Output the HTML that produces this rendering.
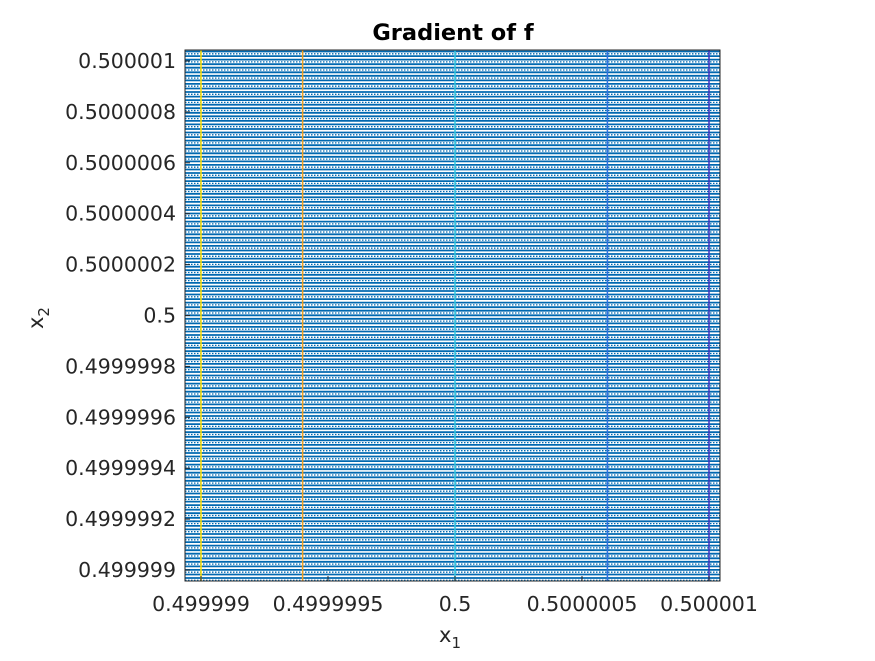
<!DOCTYPE html>
<html><head><meta charset="utf-8"><style>
body{margin:0;background:#fff;}
svg text{font-family:"DejaVu Sans","Liberation Sans",sans-serif;fill:#262626;}
</style></head><body>
<svg width="875" height="656" id="c">
<rect width="875" height="656" fill="#fff"/>
<text x="453" y="40" text-anchor="middle" font-size="22.5" font-weight="bold" style="fill:#000">Gradient of f</text>
<g id="plot"></g>
<g id="ax"></g>
<text x="450" y="642" text-anchor="middle" font-size="21">x<tspan font-size="15" dy="6">1</tspan></text>
<text transform="translate(43,318) rotate(-90)" text-anchor="middle" font-size="21">x<tspan font-size="15" dy="6">2</tspan></text>
</svg>
<script>
const xTicks=[0.499999,0.4999995,0.5,0.5000005,0.500001];
const xTickLabels=["0.499999","0.4999995","0.5","0.5000005","0.500001"];
const yTicks=[0.499999,0.4999992,0.4999994,0.4999996,0.4999998,0.5,0.5000002,0.5000004,0.5000006,0.5000008,0.500001];
const yTickLabels=["0.499999","0.4999992","0.4999994","0.4999996","0.4999998","0.5","0.5000002","0.5000004","0.5000006","0.5000008","0.500001"];
const vLevels=[0.499999,0.4999994,0.5,0.5000006,0.500001];
const vColors=["#FFE000","#F0A020","#30C8E0","#3070E0","#4030C0"];
const hStepPx=8.1;
const L=185,R=720,T=50,B=581;
const x0=0.5-(455-L)/254e6,x1=0.5+(R-455)/254e6;
const y0=0.5-(B-315.5)/254.5e6,y1=0.5+(315.5-T)/254.5e6;
const sx=v=>L+(v-x0)/(x1-x0)*(R-L);
const sy=v=>B-(v-y0)/(y1-y0)*(B-T);
const NS="http://www.w3.org/2000/svg";
const plot=document.getElementById('plot'),ax=document.getElementById('ax');
function mk(p,t,a){const e=document.createElementNS(NS,t);for(const k in a)e.setAttribute(k,a[k]);p.appendChild(e);return e;}
for(let y=T+1.5;y<B;y+=hStepPx){
 [[0,"none",1.8],[4.6,"none",1.8],[2.3,"1.5 1.5",1.3]].forEach(([o,d,w])=>{
  const yy=y+o;if(yy>=B)return;
  const l=mk(plot,'line',{x1:L,x2:R,y1:yy,y2:yy,stroke:"#0068B0","stroke-width":w,"stroke-dasharray":d});
  
  
 });
}
vLevels.forEach((v,i)=>{
 const x=sx(v);
 const l=mk(plot,'line',{x1:x,x2:x,y1:T,y2:B,stroke:vColors[i],"stroke-width":1.5});
 
 
});
const fr=mk(ax,'rect',{x:L,y:T,width:R-L,height:B-T,fill:"none",stroke:"#262626","stroke-width":1});


xTicks.forEach((v,i)=>{
 const x=sx(v);
 mk(ax,'line',{x1:x,x2:x,y1:B,y2:B-5,stroke:"#262626"});
 const t=mk(ax,'text',{x:x,y:611,"text-anchor":"middle","font-size":20.5});
 t.textContent=xTickLabels[i];
 
 
});
yTicks.forEach((v,i)=>{
 const y=sy(v);
 mk(ax,'line',{x1:L,x2:L+5,y1:y,y2:y,stroke:"#262626"});
 const t=mk(ax,'text',{x:176,y:y+7,"text-anchor":"end","font-size":20.5});
 t.textContent=yTickLabels[i];
 
 
});
</script>
</body></html>
